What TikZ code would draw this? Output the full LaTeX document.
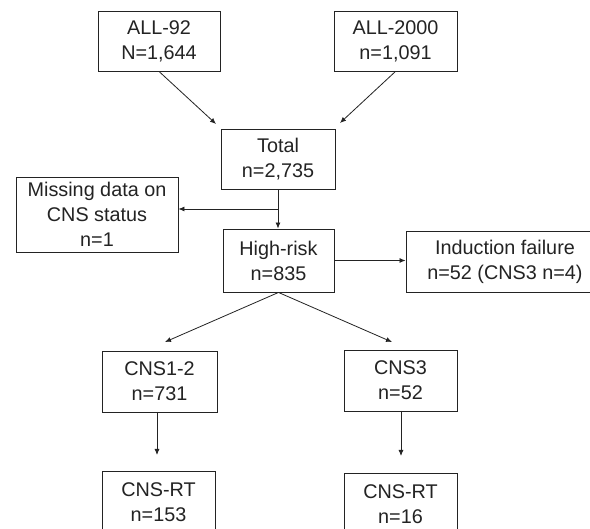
\documentclass[tikz,border=0pt]{standalone}
\usepackage{fontspec}
\setmainfont{Liberation Sans}
\usetikzlibrary{arrows.meta}
\definecolor{ink}{RGB}{35,35,35}
\tikzset{
  box/.style={draw=ink, line width=0.9pt, align=center, inner sep=0pt, text=ink,
    font=\fontsize{19.8}{25}\selectfont},
  conn/.style={draw=ink, line width=0.8pt, -{Latex[length=6pt,width=5pt]}}
}
\begin{document}
\begin{tikzpicture}[x=1pt,y=-1pt]
\useasboundingbox (0,0) rectangle (590,529);
\clip (0,0) rectangle (590,529);
\fill[white] (0,0) rectangle (590,529);
\node[box, minimum width=122pt, minimum height=60pt] (all92) at (159,41) {ALL-92\\N=1,644};
\node[box, minimum width=123pt, minimum height=60pt] (all2000) at (395.5,41) {ALL-2000\\n=1,091};
\node[box, minimum width=114pt, minimum height=60pt] (total) at (278,159) {Total\\n=2,735};
\node[box, minimum width=162pt, minimum height=75pt] (missing) at (97,214.5) {Missing data on\\CNS status\\n=1};
\node[box, minimum width=111pt, minimum height=63pt] (high) at (278.5,260.5) {High-risk\\n=835};
\node[box, minimum width=198pt, minimum height=61pt] (induct) at (505,261.5) {Induction failure\\n=52 (CNS3 n=4)};
\node[box, minimum width=115pt, minimum height=61pt] (cns12) at (159.5,381.5) {CNS1-2\\n=731};
\node[box, minimum width=113pt, minimum height=61pt] (cns3) at (400.5,380.5) {CNS3\\n=52};
\node[box, minimum width=113pt, minimum height=62pt] (rt1) at (158.5,502) {CNS-RT\\n=153};
\node[box, minimum width=113pt, minimum height=62pt] (rt2) at (400.5,504) {CNS-RT\\n=16};
\coordinate (t1) at (216,124);
\coordinate (t2) at (340,123);
\coordinate (branch) at (278,209);
\coordinate (t3) at (165,342);
\coordinate (t4) at (392,342);
\coordinate (s5) at (157,412);
\coordinate (t5) at (157,455);
\coordinate (s6) at (401,411);
\coordinate (t6) at (401,456);
\draw[conn] (all92.south) -- (t1);
\draw[conn] (all2000.south) -- (t2);
\draw[conn] (total.south) -- (total.south |- high.north);
\draw[conn] (branch) -- (branch -| missing.east);
\draw[conn] (high.east) -- (high.east -| induct.west);
\draw[conn] (high.south) -- (t3);
\draw[conn] (high.south) -- (t4);
\draw[conn] (s5) -- (t5);
\draw[conn] (s6) -- (t6);
\end{tikzpicture}
\end{document}
